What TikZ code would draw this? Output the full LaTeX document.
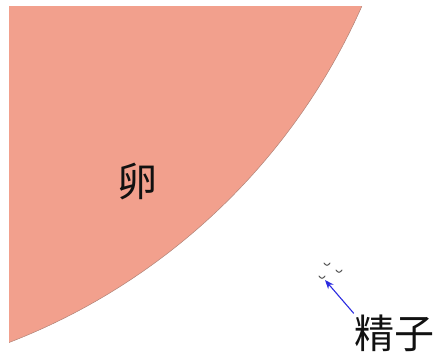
\documentclass[tikz,border=0pt]{standalone}
\usepackage{fontspec}
\usepackage{xcolor}
\usepackage{tikz}
\usetikzlibrary{arrows.meta,calc}
\newfontfamily\cjk{Noto Sans CJK SC}
\definecolor{Egg}{HTML}{F2A08D}
\definecolor{EggEdge}{HTML}{B08478}
\definecolor{Ink}{HTML}{111111}
\definecolor{Sperm}{HTML}{555555}
\definecolor{Pointer}{HTML}{2B2BE0}

\begin{document}
\begin{tikzpicture}[x=1pt,y=-1pt,
  every node/.style={inner sep=0pt,text=Ink},
  egg/.style={fill=Egg,draw=EggEdge,line width=0.5pt},
  label/.style={font=\cjk\fontsize{40}{40}\selectfont},
  spermhead/.style={draw=Sperm,line width=1pt,line cap=round},
  pointer/.style={draw=Pointer,line width=1.1pt,-{Stealth[length=9pt,width=7pt]}}]
\useasboundingbox (0,0) rectangle (442,360);
\coordinate (eggc) at (-220,-251);
\coordinate (sp1) at (327,264);
\coordinate (sp2) at (339,271);
\coordinate (sp3) at (322,277);

% the egg is only a quarter visible, so clip its disc to the frame
\begin{scope}
\clip (9,6) rectangle (442,360);
\draw[egg] (eggc) circle[radius=636];
\end{scope}

\node[label] (egg) at (137,181) {卵};
\node[label] (sperm) at (394,333) {精子};
\coordinate (tail) at ($(sperm.north west)+(0,-1)$);

\foreach \s in {sp1,sp2,sp3}
  \draw[spermhead] ($(\s)+(-3,-1)$) .. controls ($(\s)+(-1,2)$) and ($(\s)+(1,2)$) .. ($(\s)+(3,-1)$);

\draw[pointer] (tail) -- ($(sp3)+(3,3)$);
\end{tikzpicture}
\end{document}
